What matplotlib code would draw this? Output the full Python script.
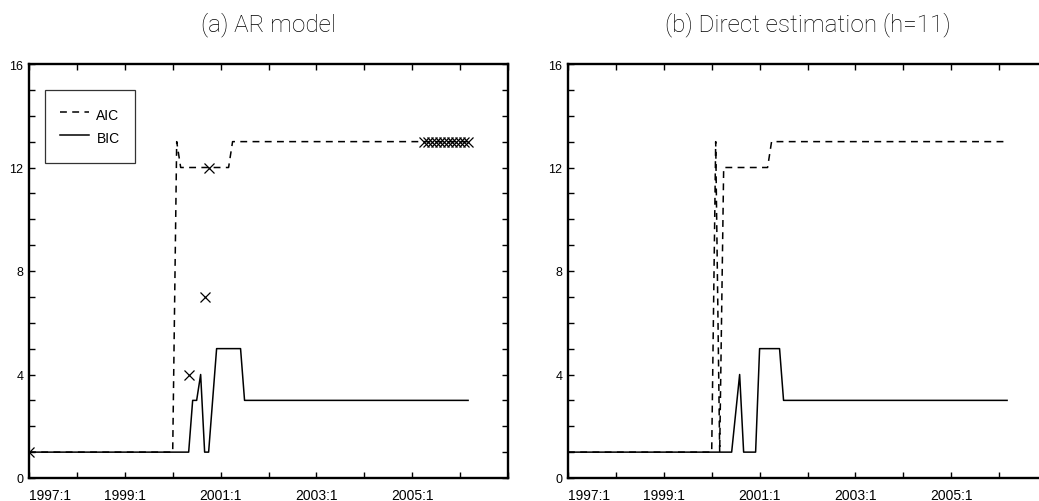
import matplotlib
matplotlib.use("Agg")
import matplotlib.pyplot as plt
from matplotlib.ticker import MultipleLocator, FixedLocator
import numpy as np

# ---------------- data (monthly, index 0 = 1997:1) ----------------
start_year = 1997
n_obs = 111  # 1997:1 .. 2006:3

# (a) AR model
aic_a_changes = [(0, 1), (37, 13), (38, 12), (51, 13)]
bic_a_changes = [(0, 1), (41, 3), (43, 4), (44, 1), (46, 3), (47, 5), (54, 3)]
marker_idx_a = [0, 40, 44, 45, 99, 100, 101, 102, 103, 104, 105, 106, 107, 108, 109, 110]
marker_val_a = [1, 4, 7, 12, 13, 13, 13, 13, 13, 13, 13, 13, 13, 13, 13, 13]

# (b) Direct estimation (h=11)
aic_b_changes = [(0, 1), (37, 13), (38, 1), (39, 12), (51, 13)]
bic_b_changes = [(0, 1), (42, 2.5), (43, 4), (44, 1), (48, 5), (54, 3)]

titles = ["(a) AR model", "(b) Direct estimation (h=11)"]
legend_labels = ["AIC", "BIC"]
xtick_years = [1997, 1999, 2001, 2003, 2005]
xtick_labels = ["1997:1", "1999:1", "2001:1", "2003:1", "2005:1"]
ytick_vals = [0, 4, 8, 12, 16]


def build_series(changes, n):
    vals = np.empty(n)
    for k, (idx, v) in enumerate(changes):
        end = changes[k + 1][0] if k + 1 < len(changes) else n
        vals[idx:end] = v
    return vals


t = start_year + np.arange(n_obs) / 12.0
aic_a = build_series(aic_a_changes, n_obs)
bic_a = build_series(bic_a_changes, n_obs)
aic_b = build_series(aic_b_changes, n_obs)
bic_b = build_series(bic_b_changes, n_obs)
mk_t = start_year + np.array(marker_idx_a) / 12.0

plt.rcParams['font.family'] = ['Liberation Sans', 'DejaVu Sans']

W, H = 1039, 502
fig = plt.figure(figsize=(W / 100, H / 100), dpi=100)

def px_axes(left, top, right, bottom):
    return [left / W, 1 - bottom / H, (right - left) / W, (bottom - top) / H]

ax1 = fig.add_axes(px_axes(29, 65, 508, 479))
ax2 = fig.add_axes(px_axes(568, 65, 1047, 479))

dash = (0, (4.5, 3.5))

for ax, aic, bic, title in [(ax1, aic_a, bic_a, titles[0]), (ax2, aic_b, bic_b, titles[1])]:
    ax.plot(t, aic, color='black', lw=1.1, linestyle=dash, label=legend_labels[0])
    ax.plot(t, bic, color='black', lw=1.1, linestyle='-', label=legend_labels[1])
    ax.set_xlim(1997, 2007)
    ax.set_ylim(0, 16)
    ax.xaxis.set_major_locator(FixedLocator(xtick_years))
    ax.set_xticklabels(xtick_labels)
    ax.xaxis.set_minor_locator(MultipleLocator(1))
    ax.yaxis.set_major_locator(FixedLocator(ytick_vals))
    ax.yaxis.set_minor_locator(MultipleLocator(1))
    ax.tick_params(which='both', direction='in', top=True, right=True,
                   length=4, width=1.0)
    ax.tick_params(axis='x', labelsize=10, pad=7.5)
    ax.tick_params(axis='y', labelsize=9, pad=4)
    ax.get_xticklabels()[0].set_horizontalalignment('left')
    for sp in ax.spines.values():
        sp.set_linewidth(1.7)
    ax.set_title(title, fontsize=17.5, pad=24,
                 family=['Roboto', 'Liberation Sans', 'DejaVu Sans'], fontweight='light')

ax1.plot(mk_t, marker_val_a, linestyle='none', marker='x', color='black',
         markersize=6.5, markeredgewidth=0.9)

leg = ax1.legend(loc='upper left', bbox_to_anchor=(0.0334, 0.937), borderaxespad=0,
                 fontsize=10, frameon=True, fancybox=False, edgecolor='black',
                 handlelength=2.1, handletextpad=0.5, handleheight=1.72,
                 labelspacing=0.3, borderpad=1.1)
leg.get_frame().set_linewidth(0.9)

fig.savefig("out.png", dpi=100)
